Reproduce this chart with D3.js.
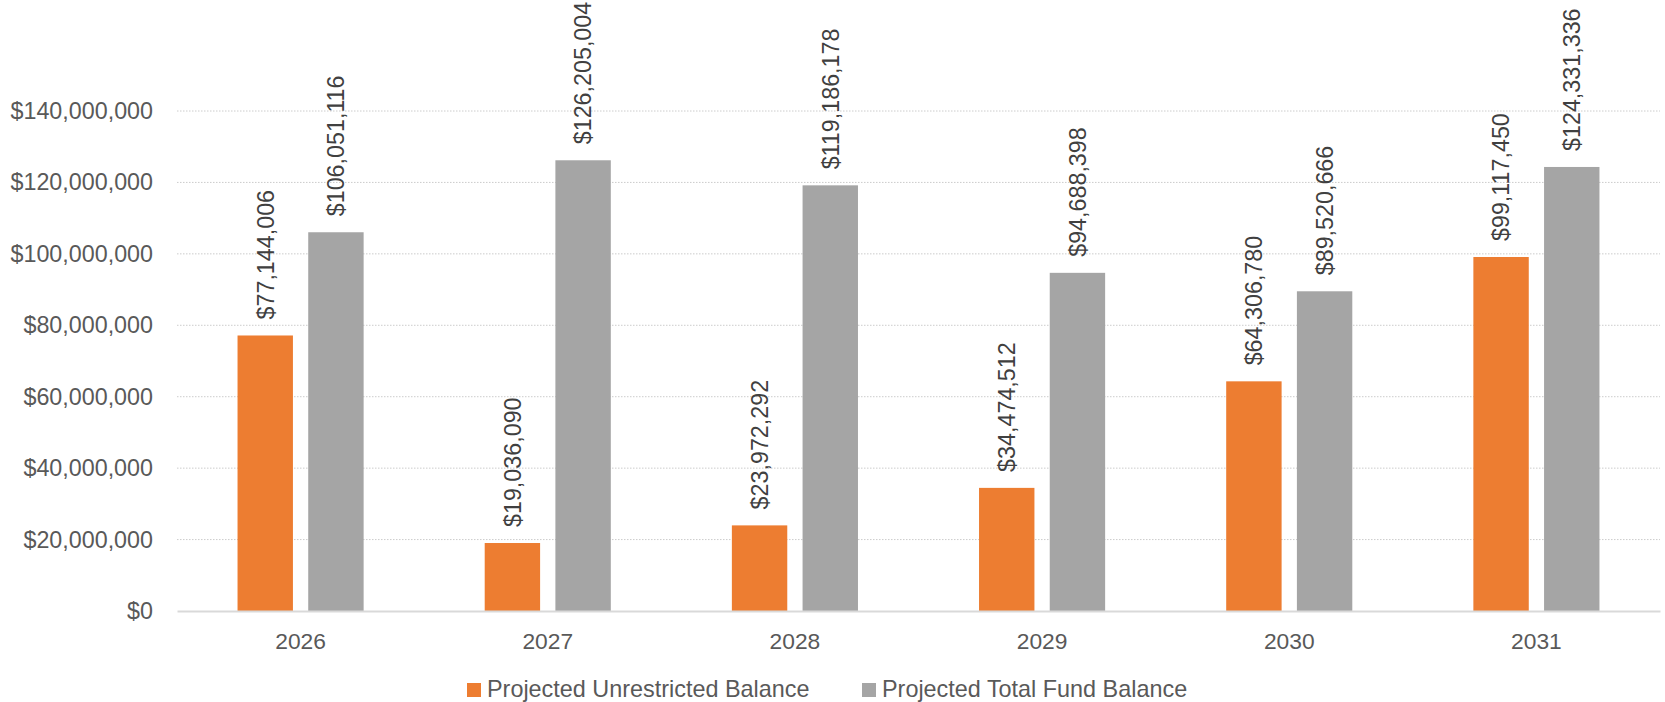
<!DOCTYPE html>
<html>
<head>
<meta charset="utf-8">
<script src="https://cdn.jsdelivr.net/npm/d3@7"></script>
<style>
  html, body { margin: 0; padding: 0; background: #fff; }
  svg { display: block; font-family: "Liberation Sans", Arial, sans-serif; }
</style>
</head>
<body>
<svg id="chart" width="1665" height="702"></svg>
<script>
const categories = ["2026", "2027", "2028", "2029", "2030", "2031"];
const seriesNames = ["Projected Unrestricted Balance", "Projected Total Fund Balance"];
const unrestricted = [77144006, 19036090, 23972292, 34474512, 64306780, 99117450];
const totalFund = [106051116, 126205004, 119186178, 94688398, 89520666, 124331336];
const yTicks = [0, 20000000, 40000000, 60000000, 80000000, 100000000, 120000000, 140000000];
const colors = ["#ED7D31", "#A5A5A5"];

const svg = d3.select("#chart");
const plotLeft = 177, plotRight = 1660, plotTop = 111, plotBottom = 611;

const x = d3.scaleBand().domain(categories).range([plotLeft, plotRight]).padding(0);
const y = d3.scaleLinear().domain([0, 140000000]).range([plotBottom, plotTop]);
const barW = 55.4, barGap = 15.3;
const groupW = barW * 2 + barGap;

const money = v => "$" + d3.format(",")(v);

// gridlines
svg.append("g").selectAll("line")
  .data(yTicks.filter(d => d > 0))
  .join("line")
  .attr("x1", plotLeft).attr("x2", plotRight)
  .attr("y1", d => y(d)).attr("y2", d => y(d))
  .attr("stroke", "#CCCCCC")
  .attr("stroke-width", 1)
  .attr("stroke-dasharray", "1.5,1.5");

// y axis labels
const yAxis = d3.axisLeft(y).tickValues(yTicks).tickFormat(money).tickSize(0).tickPadding(24);
const gy = svg.append("g").attr("transform", `translate(${plotLeft},0)`).call(yAxis);
gy.select(".domain").remove();
gy.selectAll("text").attr("font-size", 23.3).attr("fill", "#595959")
  .attr("font-family", "Liberation Sans, Arial, sans-serif");

// bars
const series = [unrestricted, totalFund];
series.forEach((vals, si) => {
  const g = svg.append("g");
  const data = categories.map((c, i) => ({ c, v: vals[i] }));
  g.selectAll("rect")
    .data(data)
    .join("rect")
    .attr("x", d => x(d.c) + x.bandwidth() / 2 - groupW / 2 + si * (barW + barGap))
    .attr("width", barW)
    .attr("y", d => y(d.v))
    .attr("height", d => y(0) - y(d.v))
    .attr("fill", colors[si]);

  g.selectAll("text")
    .data(data)
    .join("text")
    .attr("transform", d => {
      const cx = x(d.c) + x.bandwidth() / 2 - groupW / 2 + si * (barW + barGap) + barW / 2;
      return `translate(${cx},${y(d.v) - 16}) rotate(-90)`;
    })
    .attr("dy", "0.36em")
    .attr("text-anchor", "start")
    .attr("font-size", 23.3)
    .attr("fill", "#404040")
    .text(d => money(d.v));
});

// x axis
const xAxis = d3.axisBottom(x).tickSize(0).tickPadding(22);
const gx = svg.append("g").attr("transform", `translate(0,${plotBottom})`).call(xAxis);
gx.select(".domain").attr("stroke", "#D9D9D9").attr("stroke-width", 2);
gx.selectAll("text").attr("font-size", 22.8).attr("fill", "#595959")
  .attr("font-family", "Liberation Sans, Arial, sans-serif");

// legend
const legendX = [467, 862];
const lg = svg.append("g");
seriesNames.forEach((name, i) => {
  lg.append("rect").attr("x", legendX[i]).attr("y", 683).attr("width", 14).attr("height", 14).attr("fill", colors[i]);
  lg.append("text").attr("x", legendX[i] + 20).attr("y", 697)
    .attr("font-size", 23.4).attr("fill", "#595959").text(name);
});
</script>
</body>
</html>
